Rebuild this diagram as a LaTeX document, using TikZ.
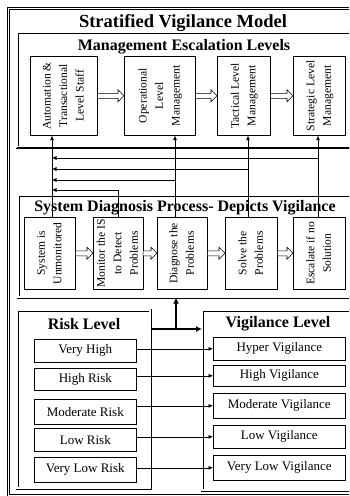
\documentclass[tikz,border=0pt]{standalone}
\usepackage{fontspec}
\setmainfont{Liberation Serif}
\usetikzlibrary{arrows.meta,calc}

\newcommand{\uptext}[1]{\rotatebox{90}{\begin{tabular}{@{}c@{}}#1\end{tabular}}}

\begin{document}
\begin{tikzpicture}[x=1pt,y=-1pt,
	frame/.style={draw, double, double distance=1.8pt, line width=0.6pt, inner sep=0pt, anchor=north west},
	stagebox/.style={draw, line width=0.6pt, fill=white, inner sep=0pt, anchor=north west, font=\fontsize{11.6}{16.5}\selectfont},
	levelbox/.style={draw, line width=0.6pt, fill=white, inner sep=0pt, anchor=north west, font=\fontsize{13}{13}\selectfont},
	titletext/.style={font=\bfseries\fontsize{16}{16}\selectfont, inner sep=0pt},
	pointer/.style={line width=0.6pt, -{Latex[length=4.5pt,width=4pt]}},
	bigpointer/.style={line width=1.6pt, -{Latex[length=6pt,width=6pt]}},
	hollowarrow/.style={draw, line width=0.6pt, fill=white, to path={let \p1=(\tikztostart), \p2=(\tikztotarget) in
		(\x1,\y1+2.5pt) -- (\x2-6pt,\y1+2.5pt) -- (\x2-6pt,\y1+6pt) -- (\x2,\y1) -- (\x2-6pt,\y1-6pt) -- (\x2-6pt,\y1-2.5pt) -- (\x1,\y1-2.5pt) -- cycle}}]
	\useasboundingbox (0,0) rectangle (349,496);
	\clip (0,0) rectangle (349,496);

	% frames (cut off on the right)
	\node[frame, line width=0.9pt, minimum width=412pt, minimum height=487pt] (model) at (8,8) {};
	\node[frame, minimum width=400pt, minimum height=115pt] (mgmtframe) at (17,32) {};
	\draw[line width=1.8pt] (mgmtframe.south west) -- (mgmtframe.south east);
	\node[frame, minimum width=400pt, minimum height=102pt] (sdframe) at (18,195) {};
	\node[frame, minimum width=133pt, minimum height=178pt] (riskframe) at (17,310) {};
	\node[frame, minimum width=200pt, minimum height=180pt] (vigframe) at (202,310) {};

	% titles
	\node[titletext, font=\bfseries\fontsize{18.5}{18.5}\selectfont] (modeltitle) at (183,23) {Stratified Vigilance Model};
	\node[titletext] (mgmttitle) at (184,47) {Management Escalation Levels};
	\node[titletext] (sdtitle) at (185,208) {System Diagnosis Process- Depicts Vigilance};
	\node[titletext] (risktitle) at (84,324) {Risk Level};
	\node[titletext] (vigtitle) at (278,324) {Vigilance Level};

	% management levels
	\node[stagebox, minimum width=67pt, minimum height=79pt] (mg1) at (30,56) {\uptext{Automation \&\\Transactional\\Level Staff}};
	\node[stagebox, minimum width=71pt, minimum height=79pt] (mg2) at (124,56) {\uptext{Operational\\Level\\Management}};
	\node[stagebox, minimum width=53pt, minimum height=79pt] (mg3) at (217,56) {\uptext{Tactical Level\\Management}};
	\node[stagebox, minimum width=52pt, minimum height=79pt] (mg4) at (293,56) {\uptext{Strategic Level\\Management}};
	\draw[hollowarrow] (mg1.east) to (mg2.west);
	\draw[hollowarrow] (mg2.east) to (mg3.west);
	\draw[hollowarrow] (mg3.east) to (mg4.west);

	% diagnosis steps
	\node[stagebox, minimum width=51pt, minimum height=72pt] (sd1) at (24,217) {\uptext{System is\\Unmonitored}};
	\node[stagebox, minimum width=49pt, minimum height=72pt] (sd2) at (93,217) {\uptext{Monitor the IS\\to Detect\\Problems}};
	\node[stagebox, minimum width=50pt, minimum height=72pt] (sd3) at (157,217) {\uptext{Diagnose the\\Problems}};
	\node[stagebox, minimum width=52pt, minimum height=72pt] (sd4) at (225,217) {\uptext{Solve the\\Problems}};
	\node[stagebox, minimum width=52pt, minimum height=72pt] (sd5) at (293,217) {\uptext{Escalate if no\\Solution}};
	\draw[hollowarrow] (sd1.east) to (sd2.west);
	\draw[hollowarrow] (sd2.east) to (sd3.west);
	\draw[hollowarrow] (sd3.east) to (sd4.west);
	\draw[hollowarrow] (sd4.east) to (sd5.west);

	% escalation lines
	\coordinate (trunk) at (52,0);
	\coordinate (up2) at (175,0);
	\coordinate (up3) at (248,0);
	\coordinate (up4) at (318,0);
	\coordinate (br1) at (0,158);
	\coordinate (br2) at (0,169);
	\coordinate (br3) at (0,180);
	\coordinate (br4) at (0,190);
	\draw[pointer] (sd1.north -| trunk) -- (mg1.south -| trunk);
	\draw[pointer] (sd3.north -| up2) -- (mg2.south -| up2);
	\draw[pointer] (sd4.north -| up3) -- (mg3.south -| up3);
	\draw[pointer] (sd5.north -| up4) -- (mg4.south -| up4);
	\draw[pointer] (up4 |- br1) -- (trunk |- br1);
	\draw[pointer] (up3 |- br2) -- (trunk |- br2);
	\draw[pointer] (up2 |- br3) -- (trunk |- br3);
	\draw[pointer] (sd2.north) |- (trunk |- br4);

	% risk and vigilance levels
	\node[levelbox, minimum width=102pt, minimum height=23pt] (r1) at (34,339) {Very High};
	\node[levelbox, minimum width=102pt, minimum height=22pt] (r2) at (34,368) {High Risk};
	\node[levelbox, minimum width=102pt, minimum height=25pt] (r3) at (34,399) {Moderate Risk};
	\node[levelbox, minimum width=102pt, minimum height=23pt] (r4) at (34,428) {Low Risk};
	\node[levelbox, minimum width=102pt, minimum height=25pt] (r5) at (34,457) {Very Low Risk};
	\node[levelbox, minimum width=132pt, minimum height=23pt] (v1) at (213,337) {Hyper Vigilance};
	\node[levelbox, minimum width=132pt, minimum height=21pt] (v2) at (213,365) {High Vigilance};
	\node[levelbox, minimum width=132pt, minimum height=25pt] (v3) at (213,393) {Moderate Vigilance};
	\node[levelbox, minimum width=132pt, minimum height=23pt] (v4) at (213,425) {Low Vigilance};
	\node[levelbox, minimum width=132pt, minimum height=25pt] (v5) at (213,455) {Very Low Vigilance};
	\foreach \i in {1,...,5}
		\draw[pointer] (r\i.east |- v\i.west) -- (v\i.west);

	\coordinate (fork) at (176,329);
	\draw[bigpointer] (riskframe.east |- fork) -- (vigframe.west |- fork);
	\draw[bigpointer] (fork) -- (fork |- sdframe.south);
\end{tikzpicture}
\end{document}
